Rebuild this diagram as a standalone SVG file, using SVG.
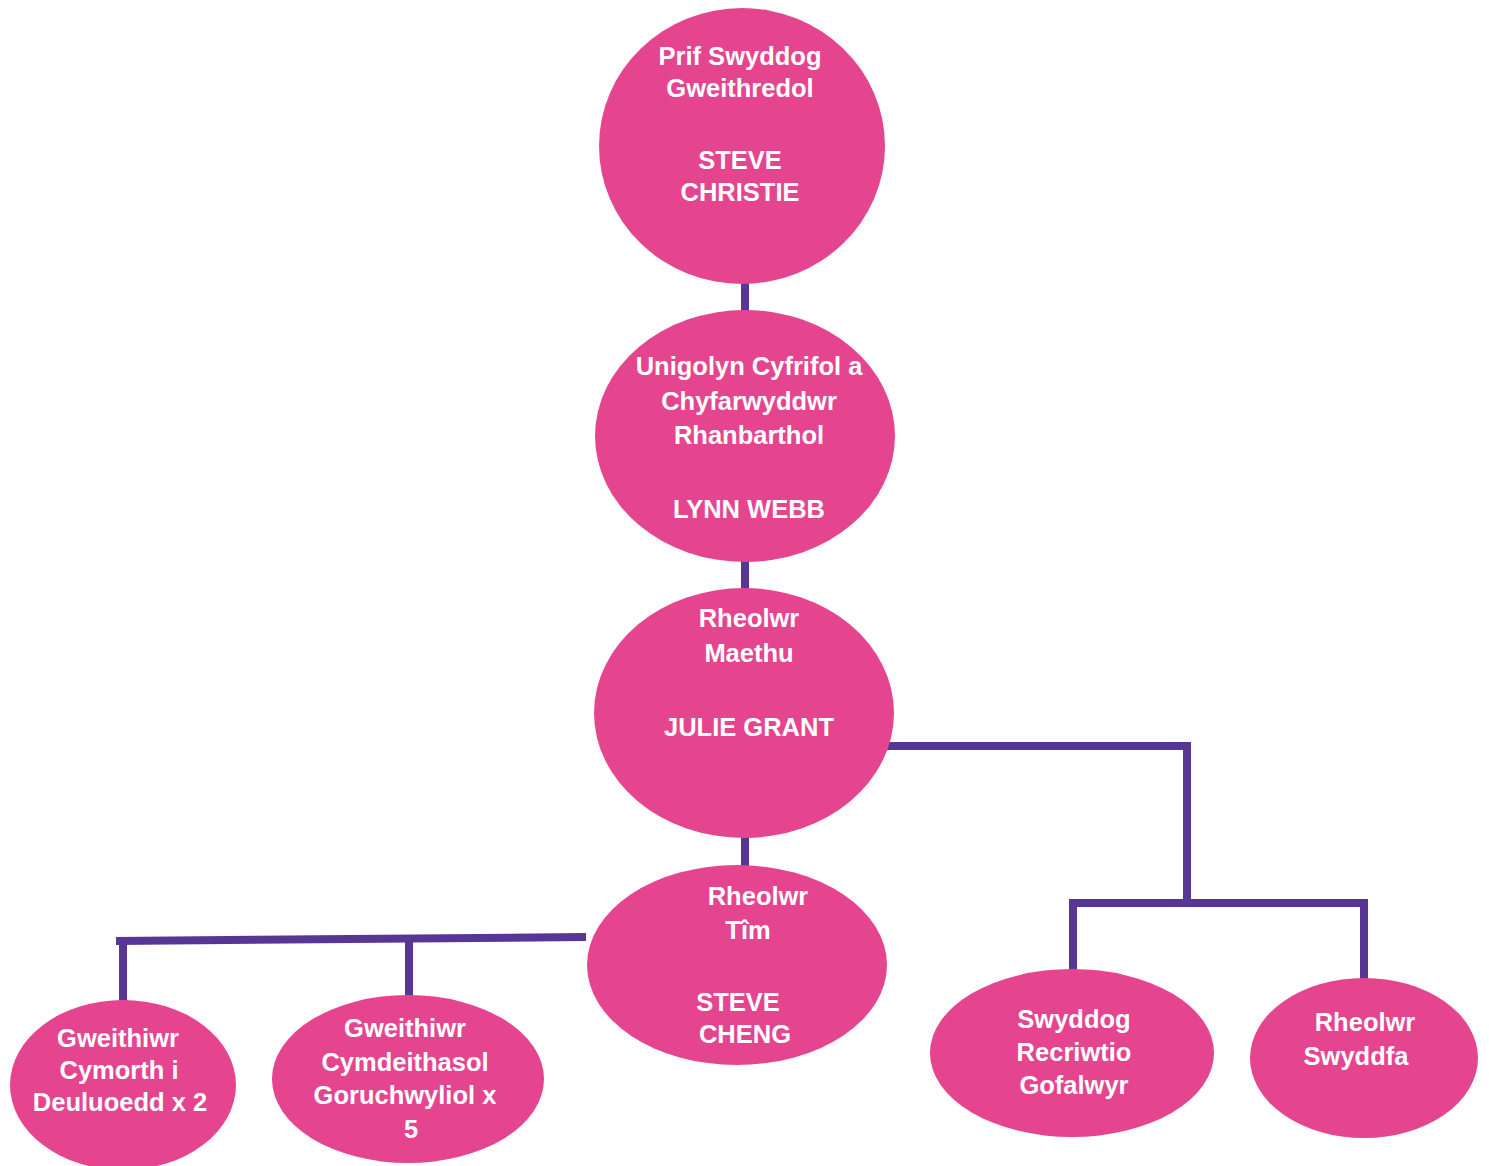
<svg xmlns="http://www.w3.org/2000/svg" width="1489" height="1166" viewBox="0 0 1489 1166">
<style>
.n{fill:#E5458F}
.t{font-family:"Liberation Sans",Arial,sans-serif;font-weight:bold;font-size:25.5px;fill:#fff;text-anchor:middle}
.c{stroke:#583694;stroke-width:8;fill:none}
</style>
<rect width="1489" height="1166" fill="#fff"/>
<g id="connectors">
<line class="c" x1="745" y1="280" x2="745" y2="314"/>
<line class="c" x1="745" y1="558" x2="745" y2="593"/>
<line class="c" x1="745" y1="833" x2="745" y2="870"/>
<polyline class="c" points="885,746 1187,746 1187,903"/>
<polyline class="c" points="1073,975 1073,903 1364,903 1364,982"/>
<line class="c" x1="116" y1="941" x2="586" y2="937"/>
<line class="c" x1="123" y1="941" x2="123" y2="1005"/>
<line class="c" x1="409" y1="939" x2="409" y2="998"/>
</g>
<g id="n1"><ellipse class="n" cx="742" cy="146" rx="143" ry="138"/>
<text class="t" x="740" y="65">Prif Swyddog</text><text class="t" x="740" y="97">Gweithredol</text>
<text class="t" x="740" y="169">STEVE</text><text class="t" x="740" y="201">CHRISTIE</text></g>
<g id="n2"><ellipse class="n" cx="745" cy="436" rx="150" ry="126"/>
<text class="t" x="749" y="375">Unigolyn Cyfrifol a</text><text class="t" x="749" y="410">Chyfarwyddwr</text>
<text class="t" x="749" y="444">Rhanbarthol</text><text class="t" x="749" y="518">LYNN WEBB</text></g>
<g id="n3"><ellipse class="n" cx="744" cy="713" rx="150" ry="125"/>
<text class="t" x="749" y="627">Rheolwr</text><text class="t" x="749" y="662">Maethu</text>
<text class="t" x="749" y="736">JULIE GRANT</text></g>
<g id="n4"><ellipse class="n" cx="737" cy="965" rx="150" ry="100"/>
<text class="t" x="758" y="905">Rheolwr</text><text class="t" x="748" y="939">Tîm</text>
<text class="t" x="738" y="1011">STEVE</text><text class="t" x="745" y="1043">CHENG</text></g>
<g id="n5"><ellipse class="n" cx="123" cy="1085" rx="113" ry="85"/>
<text class="t" x="118" y="1047">Gweithiwr</text><text class="t" x="119" y="1079">Cymorth i</text>
<text class="t" x="120" y="1111">Deuluoedd x 2</text></g>
<g id="n6"><ellipse class="n" cx="408" cy="1079" rx="136" ry="84"/>
<text class="t" x="405" y="1037">Gweithiwr</text><text class="t" x="405" y="1071">Cymdeithasol</text>
<text class="t" x="405" y="1104">Goruchwyliol x</text><text class="t" x="411" y="1138">5</text></g>
<g id="n7"><ellipse class="n" cx="1072" cy="1053" rx="142" ry="84"/>
<text class="t" x="1074" y="1028">Swyddog</text><text class="t" x="1074" y="1061">Recriwtio</text>
<text class="t" x="1074" y="1094">Gofalwyr</text></g>
<g id="n8"><ellipse class="n" cx="1364" cy="1058" rx="114" ry="80"/>
<text class="t" x="1365" y="1031">Rheolwr</text><text class="t" x="1356" y="1065">Swyddfa</text></g>
</svg>
